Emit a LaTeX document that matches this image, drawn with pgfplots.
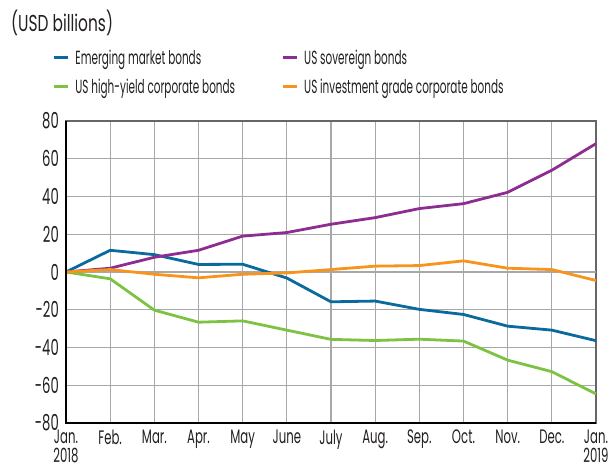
\documentclass[border=0pt]{standalone}
\usepackage{pgfplots}
\pgfplotsset{compat=1.18}
\usepackage{fontspec}
\setmainfont{Poppins}[FakeStretch=0.6]
\newfontfamily\legfont{Poppins}[FakeStretch=0.55]
\newfontfamily\labfont{Poppins}[FakeStretch=0.67]
\definecolor{emblue}{HTML}{0A6A9E}
\definecolor{uspurple}{HTML}{8E2D91}
\definecolor{hygreen}{HTML}{7DC242}
\definecolor{igorange}{HTML}{F7941D}
\definecolor{gridgray}{HTML}{A8A8A8}
\definecolor{txt}{HTML}{231F20}
\begin{document}
\begin{tikzpicture}[x=1pt,y=1pt]
\useasboundingbox (0,0) rectangle (613,470);
\begin{axis}[
  at={(66pt,47pt)}, anchor=south west,
  width=530pt, height=302pt, scale only axis,
  xmin=0, xmax=12, ymin=-80, ymax=80,
  xtick={0,...,12},
  xticklabels={{Jan.\\2018},Feb.,Mar.,Apr.,May,June,July,Aug.,Sep.,Oct.,Nov.,Dec.,{Jan.\\2019}},
  ytick={-80,-60,...,80},
  yticklabels={-80,-60,-40,-20,0,20,40,60,80},
  major tick length=0pt,
  grid=major,
  major grid style={gridgray, line width=1.3pt},
  axis line style={draw=black!60, line width=1.2pt},
  xticklabel style={font=\fontsize{19.5}{18.5}\selectfont, text=txt, align=center, inner sep=0pt, anchor=north},
  yticklabel style={font=\fontsize{22}{19}\selectfont, text=txt, inner sep=0pt, anchor=east},
  xticklabel shift=7pt,
  yticklabel shift=7pt,
  extra y ticks={0},
  extra y tick labels={},
  extra y tick style={grid style={black!85, line width=1.3pt}},
  legend columns=2,
  legend cell align=left,
  legend image code/.code={\draw[line width=3pt] (0pt,0pt) -- (14pt,0pt);},
  legend style={at={(axis description cs:-0.026,1.236)}, anchor=north west,
    draw=none, fill=none, inner sep=0pt, row sep=13pt,
    font=\legfont\fontsize{19}{18}\selectfont, text=txt,
    /tikz/every odd column/.style={column sep=6pt},
    /tikz/every even column/.style={column sep=46pt},
    nodes={inner sep=0pt}},
  clip=false,
]
\addplot[emblue, line width=2.8pt] coordinates {(0,0) (1,11.5) (2,9.2) (3,4) (4,4.1) (5,-3.2) (6,-15.8) (7,-15.4) (8,-19.8) (9,-22.5) (10,-28.7) (11,-30.8) (12,-36.4)};
\addlegendentry{Emerging market bonds}
\addplot[uspurple, line width=2.8pt] coordinates {(0,0) (1,2) (2,7.8) (3,11.5) (4,19) (5,20.9) (6,25.3) (7,28.8) (8,33.6) (9,36.2) (10,42.2) (11,53.9) (12,68)};
\addlegendentry{US sovereign bonds}
\addplot[hygreen, line width=2.8pt] coordinates {(0,0) (1,-3.6) (2,-20.2) (3,-26.6) (4,-25.9) (5,-30.8) (6,-35.7) (7,-36.3) (8,-35.6) (9,-36.6) (10,-46.7) (11,-52.8) (12,-64.6)};
\addlegendentry{US high-yield corporate bonds}
\addplot[igorange, line width=2.8pt] coordinates {(0,0) (1,1.3) (2,-1.2) (3,-3.1) (4,-1.2) (5,-0.5) (6,1.3) (7,3.1) (8,3.4) (9,5.9) (10,2) (11,1.3) (12,-4.5)};
\addlegendentry{US investment grade corporate bonds}
\draw[black, line width=1.3pt] (rel axis cs:0,1) -- (rel axis cs:0,0) -- (rel axis cs:1,0);
\end{axis}
\node[anchor=west, inner sep=0pt, text=txt, font=\labfont\fontsize{23}{23}\selectfont] at (11,447) {(USD billions)};
\end{tikzpicture}
\end{document}
